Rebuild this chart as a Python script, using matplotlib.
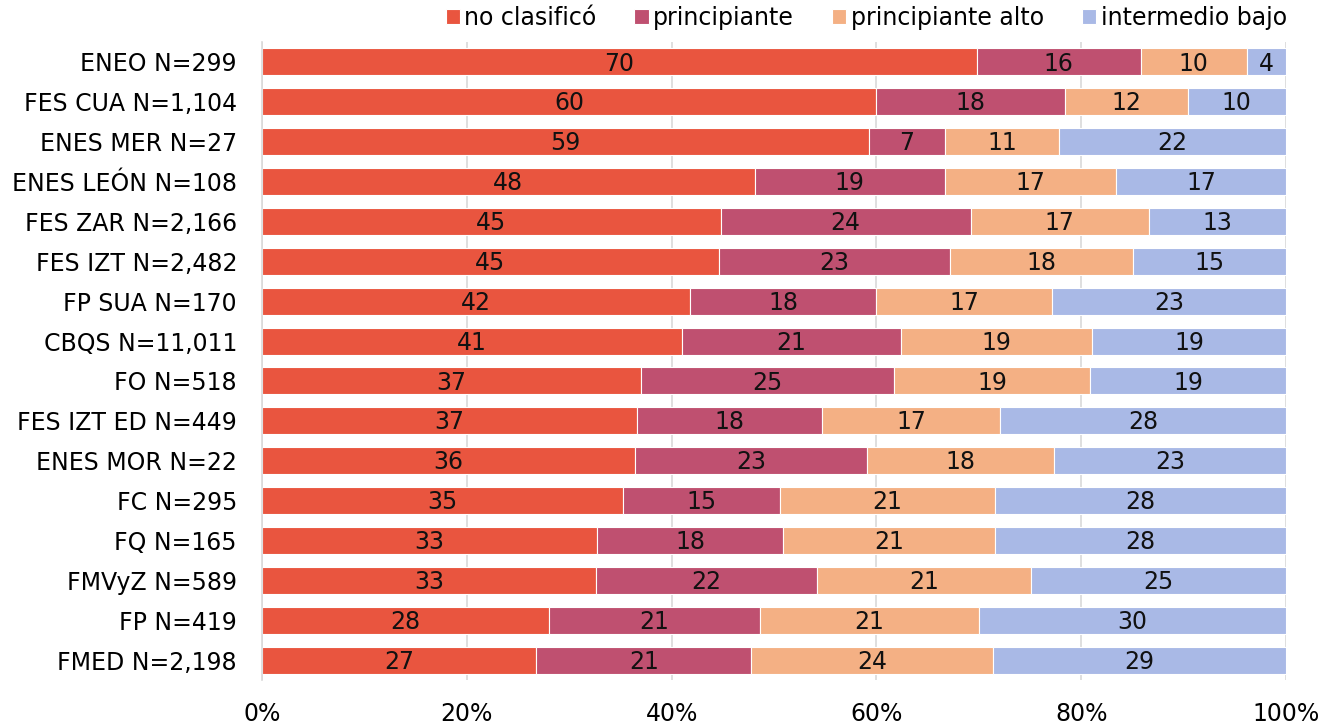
import numpy as np
import matplotlib.pyplot as plt

labels = ["ENEO N=299", "FES CUA N=1,104", "ENES MER N=27", "ENES LEÓN N=108",
          "FES ZAR N=2,166", "FES IZT N=2,482", "FP SUA N=170", "CBQS N=11,011",
          "FO N=518", "FES IZT ED N=449", "ENES MOR N=22", "FC N=295",
          "FQ N=165", "FMVyZ N=589", "FP N=419", "FMED N=2,198"]

no_clasifico = [69.8, 60.0, 59.3, 48.1, 44.8, 44.6, 41.8, 41.0, 37.0, 36.6, 36.4, 35.3, 32.7, 32.6, 28.0, 26.8]
principiante = [16.0, 18.4, 7.4, 18.6, 24.4, 22.6, 18.2, 21.4, 24.7, 18.1, 22.7, 15.3, 18.2, 21.6, 20.6, 21.0]
principiante_alto = [10.4, 12.0, 11.1, 16.7, 17.4, 17.9, 17.1, 18.7, 19.2, 17.4, 18.2, 21.0, 20.7, 20.9, 21.4, 23.6]
intermedio_bajo = [3.8, 9.6, 22.2, 16.6, 13.4, 14.9, 22.9, 18.9, 19.1, 27.9, 22.7, 28.4, 28.4, 24.9, 30.0, 28.6]

series = [("no clasificó", no_clasifico, "#E9553F"),
          ("principiante", principiante, "#BF5070"),
          ("principiante alto", principiante_alto, "#F4B084"),
          ("intermedio bajo", intermedio_bajo, "#A9B9E6")]

fs = 17

fig = plt.figure(figsize=(13.36, 7.25), dpi=100)
ax = fig.add_axes([262/1336, 1-680/725, 1024/1336, 638/725])

y = np.arange(len(labels))
left = np.zeros(len(labels))
for name, vals, col in series:
    vals = np.array(vals)
    ax.barh(y, vals, left=left, height=0.68, color=col, edgecolor="white", linewidth=0.8, label=name, zorder=2)
    for yi, l, v in zip(y, left, vals):
        ax.text(l + v/2, yi + 0.04, str(int(round(v))), ha="center", va="center", fontsize=fs, color="#111111", zorder=3)
    left += vals

ax.set_xlim(0, 100)
ax.set_ylim(len(labels) - 0.5, -0.5)
ax.set_yticks(y)
ax.set_yticklabels(labels, fontsize=fs)
ax.set_xticks(np.arange(0, 101, 20))
ax.set_xticklabels([f"{v}%" for v in range(0, 101, 20)], fontsize=fs)
ax.tick_params(axis="y", length=0, pad=18)
ax.tick_params(axis="x", length=0, pad=16)
ax.grid(axis="x", color="#D9D9D9", linewidth=1.2, zorder=0)
for s in ["top", "right", "bottom"]:
    ax.spines[s].set_visible(False)
ax.spines["left"].set_color("#D9D9D9")
ax.spines["left"].set_linewidth(1.2)

ax.legend(loc="lower center", bbox_to_anchor=(0.59, 1.0), ncol=4, frameon=False, fontsize=fs,
          handlelength=0.6, handleheight=0.6, handletextpad=0.2, columnspacing=1.6, borderaxespad=0.1)

fig.savefig("out.png", dpi=100)
